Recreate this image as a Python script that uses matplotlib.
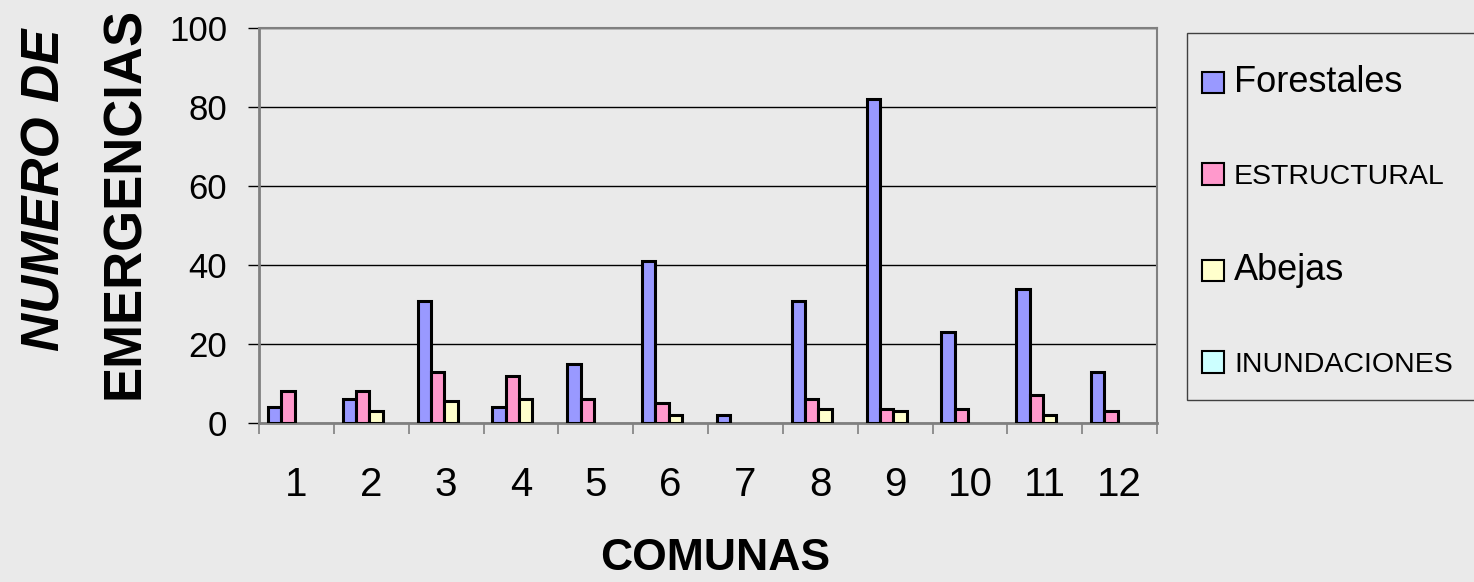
import numpy as np
import matplotlib.pyplot as plt
from matplotlib.patches import Patch, Rectangle

comunas = ['1', '2', '3', '4', '5', '6', '7', '8', '9', '10', '11', '12']
forestales = [4, 6, 31, 4, 15, 41, 2, 31, 82, 23, 34, 13]
estructural = [8, 8, 13, 12, 6, 5, 0, 6, 3.5, 3.5, 7, 3]
abejas = [0, 3, 5.5, 6, 0, 2, 0, 3.5, 3, 0, 2, 0]
inundaciones = [0, 0, 0, 0, 0, 0, 0, 0, 0, 0, 0, 0]

series = ['Forestales', 'ESTRUCTURAL', 'Abejas', 'INUNDACIONES']
colors = ['#9999FF', '#FF99CC', '#FFFFCC', '#CCFFFF']
label_sizes = [26, 20.5, 26, 20.5]

bg = '#EAEAEA'
plt.rcParams['font.family'] = ['Liberation Sans', 'DejaVu Sans']

fig = plt.figure(figsize=(14.74, 5.82), dpi=100, facecolor=bg)
ax = fig.add_axes([259 / 1474, 1 - 423 / 582, 898 / 1474, 395 / 582], facecolor=bg)

x = np.arange(len(comunas))
w = 0.178
for i, vals in enumerate([forestales, estructural, abejas, inundaciones]):
    bars = ax.bar(x + (i - 1.5) * w - 0.025, vals, w, color=colors[i],
                  edgecolor='black', linewidth=2.2, zorder=3)
    for b, v in zip(bars, vals):
        if v == 0:
            b.set_visible(False)

ax.set_xlim(-0.5, 11.5)
ax.set_ylim(0, 100)
ax.set_yticks([0, 20, 40, 60, 80, 100])
ax.tick_params(axis='y', length=8, width=1, color='black', pad=15, labelsize=25)

# tick marks between categories, labels at centers
ax.set_xticks(np.arange(-0.5, 12, 1))
ax.set_xticklabels([])
ax.tick_params(axis='x', which='major', length=8, width=1.2, color='#808080')
ax.set_xticks(x, minor=True)
ax.set_xticklabels(comunas, minor=True)
ax.tick_params(axis='x', which='minor', length=0, pad=31, labelsize=29)

ax.yaxis.grid(True, color='black', linewidth=1)
ax.set_axisbelow(True)
for s in ['left', 'bottom']:
    ax.spines[s].set_color('#808080')
    ax.spines[s].set_linewidth(2)
for s in ['right', 'top']:
    ax.spines[s].set_color('#808080')
    ax.spines[s].set_linewidth(1.5)

fig.text(715 / 1474, 1 - 558 / 582, 'COMUNAS', ha='center', va='center',
         fontsize=32, fontweight='bold')
fig.text(46 / 1474, 1 - 190 / 582, 'NUMERO DE', ha='center', va='center', rotation=90,
         fontsize=38, fontweight='bold', fontstyle='italic')
fig.text(125 / 1474, 1 - 203 / 582, 'EMERGENCIAS', ha='center', va='center', rotation=90,
         fontsize=38, fontweight='bold')

# legend frame
fig.patches.append(Rectangle((1187 / 1474, 1 - 400 / 582), 290 / 1474, 367 / 582,
                             transform=fig.transFigure, facecolor=bg,
                             edgecolor='#404040', linewidth=1, zorder=0))
handles = [Patch(facecolor=c, edgecolor='black', linewidth=1.5) for c in colors]
leg = fig.legend(handles, series, loc='upper left',
                 bbox_to_anchor=(1202 / 1474, 1 - 65 / 582), borderaxespad=0,
                 fontsize=20, labelspacing=2.28, handlelength=0.8, handleheight=0.8,
                 handletextpad=0.35, borderpad=0, frameon=False)
for t, s in zip(leg.get_texts(), label_sizes):
    t.set_fontsize(s)

fig.savefig('out.png', dpi=100, facecolor=bg)
